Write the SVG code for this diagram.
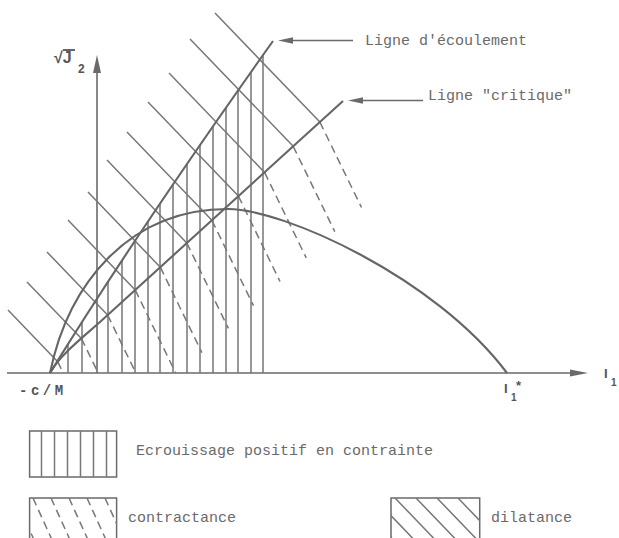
<svg xmlns="http://www.w3.org/2000/svg" width="619" height="538" viewBox="0 0 619 538">
<defs>
<style>
.ax{stroke:#6a6a6a;stroke-width:1.6;fill:none}
.crv{stroke:#656565;stroke-width:2.1;fill:none}
.h{stroke:#777;stroke-width:1.5;fill:none}
.d{stroke:#777;stroke-width:1.5;fill:none;stroke-dasharray:8 5}
.t{font-family:"Liberation Mono","DejaVu Sans Mono",monospace;font-size:15px;fill:#6a6a6a}
.b{font-family:"Liberation Sans",Arial,sans-serif;font-weight:bold;fill:#555}
.ah{fill:#6a6a6a;stroke:none}
.box{stroke:#6a6a6a;stroke-width:1.5;fill:none}
</style>
<clipPath id="c2"><rect x="29.6" y="498" width="87" height="45"/></clipPath>
<clipPath id="c3"><rect x="391" y="498" width="88.7" height="45"/></clipPath>
</defs>
<rect x="0" y="0" width="619" height="538" fill="#fff"/>

<g id="axes">
<line class="ax" x1="7" y1="373" x2="574" y2="373"/>
<polygon class="ah" points="588,373 570,369.5 570,376.5"/>
<line class="ax" x1="97" y1="373" x2="97" y2="70"/>
<polygon class="ah" points="97,55 93,73 101,73"/>
</g>

<g id="hatch-ecrouissage">
<path class="h" d="M68,373V344.1M82,373V322M108,373V281.8M122,373V260.5M135,373V240.8M148,373V221.4M160,373V203.5M173,373V184.4M187,373V164M200,373V145M213,373V126.3M226,373V107.6M238,373V90.5M251,373V72M263,373V55.1"/>
</g>

<g id="hatch-dilatance">
<path class="h" d="M215,13L319.9,122.1M190,39L293.2,146.3M169,73L264.6,172.4M148,102L238.4,196.1M127,132L211.9,220.3M107,160L186.8,243M88,192L160.3,267.2M68,220L135.2,289.9M47,252L107.6,315M27,282L81.4,338.5M8,310L57.7,361.7"/>
</g>

<g id="hatch-contractance">
<path class="d" d="M319.9,122.1L361.5,207.5M293.2,146.3L334.8,231.7M264.6,172.4L306.2,257.8M238.4,196.1L280,281.5M211.9,220.3L253.5,305.7M186.8,243L228.4,328.4M160.3,267.2L201.9,352.6M135.2,289.9L175.7,373M107.6,315L135.9,373M81.4,338.5L98.2,373M57.7,361.7L63.2,373"/>
</g>

<g id="ligne-ecoulement">
<path class="crv" d="M50,373Q135,235 273,41"/>
</g>
<g id="ligne-critique">
<path class="crv" d="M50,373C60,355 82,338 100,322L343,101"/>
</g>
<g id="surface-charge">
<path class="crv" d="M50,373C68,285 128,209 228,209C283,209 435,277 507,373"/>
</g>

<g id="connectors">
<line class="ax" x1="292" y1="40.5" x2="353" y2="40.5"/>
<polygon class="ah" points="278,40.5 293,37.3 293,43.7"/>
<line class="ax" x1="362" y1="100.5" x2="423" y2="100.5"/>
<polygon class="ah" points="348,100.5 363,97.3 363,103.7"/>
</g>

<g id="labels">
<text class="t" x="365" y="45">Ligne d'écoulement</text>
<text class="t" x="428" y="100">Ligne "critique"</text>
<text class="b" x="54" y="63" font-size="16">√J</text>
<line x1="63" y1="50" x2="75" y2="50" stroke="#555" stroke-width="1.8"/>
<text class="b" x="78" y="73" font-size="12">2</text>
<text x="19" y="395" font-family="'Liberation Mono',monospace" font-weight="bold" font-size="14" fill="#555" letter-spacing="3.5">-c/M</text>
<text class="b" x="504" y="393" font-size="13">I</text>
<text class="b" x="511" y="401" font-size="10">1</text>
<text class="b" x="516" y="390" font-size="13">*</text>
<text class="b" x="604" y="378" font-size="13">I</text>
<text class="b" x="611" y="386" font-size="10">1</text>
</g>

<g id="legend-ecrouissage">
<rect class="box" x="29.6" y="431" width="87" height="46"/>
<path class="h" d="M41.5,431V477M54.5,431V477M67.5,431V477M80.5,431V477M93.5,431V477M106.5,431V477"/>
<text class="t" x="136" y="455">Ecrouissage positif en contrainte</text>
</g>

<g id="legend-contractance">
<rect class="box" x="29.6" y="498" width="87" height="50"/>
<g clip-path="url(#c2)">
<path class="d" d="M33,498l20,44M51,498l20,44M69,498l20,44M87,498l20,44M105,498l20,44M123,498l20,44M15,498l20,44"/>
</g>
<text class="t" x="128" y="522">contractance</text>
</g>

<g id="legend-dilatance">
<rect class="box" x="391" y="498" width="88.7" height="50"/>
<g clip-path="url(#c3)">
<path class="h" d="M395,498l50,52M416,498l50,52M437,498l50,52M458,498l50,52M479,498l50,52M374,498l50,52M353,498l50,52"/>
</g>
<text class="t" x="491" y="522">dilatance</text>
</g>
</svg>
